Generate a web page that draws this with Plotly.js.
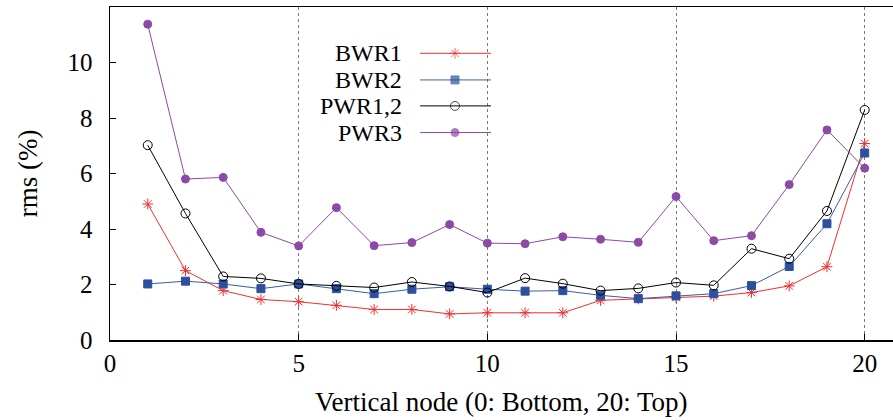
<!DOCTYPE html>
<html>
<head>
<meta charset="utf-8">
<script src="https://cdn.plot.ly/plotly-3.0.1.min.js"></script>
<style>html,body{margin:0;padding:0;background:#fff;}#chart{width:893px;height:420px;}</style>
</head>
<body>
<div id="chart"></div>
<script>
// ---- data ----
const nodes = [1,2,3,4,5,6,7,8,9,10,11,12,13,14,15,16,17,18,19,20];
const seriesNames = ["BWR1", "BWR2", "PWR1,2", "PWR3"];
const bwr1 = [4.90,2.50,1.78,1.46,1.38,1.25,1.10,1.10,0.94,0.98,0.98,0.98,1.43,1.48,1.53,1.58,1.71,1.95,2.64,7.08];
const bwr2 = [2.02,2.12,2.02,1.85,2.02,1.85,1.67,1.83,1.92,1.83,1.76,1.78,1.61,1.49,1.59,1.67,1.96,2.65,4.19,6.74];
const pwr12 = [7.02,4.56,2.29,2.22,2.02,1.95,1.89,2.09,1.93,1.71,2.23,2.03,1.78,1.86,2.07,1.97,3.29,2.93,4.65,8.29];
const pwr3 = [11.38,5.80,5.86,3.88,3.39,4.77,3.40,3.51,4.16,3.49,3.47,3.72,3.63,3.52,5.17,3.58,3.76,5.60,7.57,6.19];
const xTicks = [0,5,10,15,20];
const yTicks = [0,2,4,6,8,10];
const xTitle = "Vertical node (0: Bottom, 20: Top)";
const yTitle = "rms (%)";

// ---- styles ----
const styles = [
  {color:"#f03030", symbol:"asterisk-open", size:9},
  {color:"#3a5ca8", symbol:"square", size:8, mcolor:"#2d4f9e"},
  {color:"#000000", symbol:"circle-open", size:9},
  {color:"#8c4aa6", symbol:"circle", size:8}
];
const allSeries = [bwr1, bwr2, pwr12, pwr3];
const font = "Liberation Serif";

const traces = allSeries.map((ys, i) => ({
  x: nodes, y: ys, type: "scatter", mode: "lines+markers",
  name: seriesNames[i], showlegend: false,
  line: {color: styles[i].color, width: 1},
  marker: {symbol: styles[i].symbol, size: styles[i].size,
           color: styles[i].mcolor || styles[i].color,
           line: {color: styles[i].mcolor || styles[i].color, width: 1}}
}));

// custom legend (text left, sample right) on overlay axes in [0,1]
const legX = [0.396, 0.4406, 0.4866];
const legRows = [0.861, 0.781, 0.703, 0.623];
const legTextX = 0.3745;
const annotations = [];
seriesNames.forEach((nm, i) => {
  traces.push({
    x: legX, y: [legRows[i], legRows[i], legRows[i]], xaxis: "x2", yaxis: "y2",
    type: "scatter", mode: "lines+markers", showlegend: false, hoverinfo: "skip",
    line: {color: styles[i].color, width: 1},
    marker: {symbol: styles[i].symbol, size: [0, styles[i].size, 0],
             color: styles[i].mcolor || styles[i].color,
             line: {color: styles[i].mcolor || styles[i].color, width: 1}}
  });
  annotations.push({
    xref: "paper", yref: "paper", x: legTextX, y: legRows[i],
    xanchor: "right", yanchor: "middle", showarrow: false, borderpad: 0,
    text: nm, font: {family: font, size: 24, color: "#000"}
  });
});

annotations.push({
  xref: "paper", yref: "paper", x: 0.5, y: -0.187, xanchor: "center", yanchor: "middle",
  showarrow: false, text: xTitle, font: {family: font, size: 27, color: "#000"}
});
annotations.push({
  xref: "paper", yref: "paper", x: -0.105, y: 0.5, xanchor: "center", yanchor: "middle",
  showarrow: false, textangle: -90, text: yTitle, font: {family: font, size: 27, color: "#000"}
});

const layout = {
  width: 893, height: 420,
  margin: {l: 110, r: 0, t: 7, b: 80, pad: 0},
  paper_bgcolor: "#fff", plot_bgcolor: "#fff",
  font: {family: font, size: 26, color: "#000"},
  showlegend: false,
  xaxis: {
    range: [0, 20.75], tickvals: xTicks, ticks: "inside", ticklen: 6, tickwidth: 1, tickcolor: "#000",
    showgrid: true, gridcolor: "#777", griddash: "dot", gridwidth: 1,
    showline: true, linecolor: "#000", linewidth: 1.5, mirror: true, zeroline: false,
    ticklabelstandoff: 0, tickfont: {family: font, size: 25, color: "#000"}
  },
  yaxis: {
    range: [0, 12], tickvals: yTicks, ticks: "inside", ticklen: 6, tickwidth: 1, tickcolor: "#000",
    showgrid: false, showline: true, linecolor: "#000", linewidth: 1.5, mirror: false, zeroline: false,
    ticklabelstandoff: 11, tickfont: {family: font, size: 25, color: "#000"}
  },
  xaxis2: {overlaying: "x", range: [0, 1], visible: false, fixedrange: true},
  yaxis2: {overlaying: "y", range: [0, 1], visible: false, fixedrange: true},
  shapes: [{
    type: "rect", xref: "paper", yref: "paper", x0: 0.245, x1: 0.498, y0: 0.583, y1: 0.901,
    fillcolor: "#fff", line: {width: 0}, layer: "between"
  }],
  annotations: annotations
};

Plotly.newPlot("chart", traces, layout, {staticPlot: true, displayModeBar: false});
</script>
</body>
</html>
